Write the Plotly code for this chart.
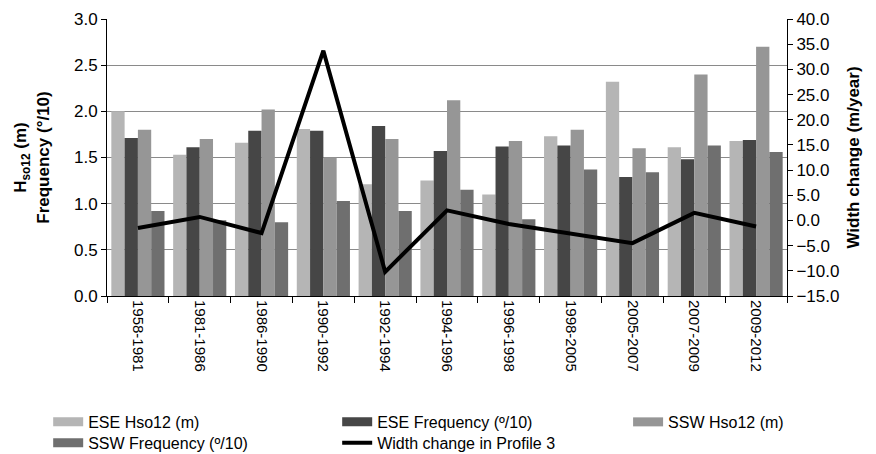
import plotly.graph_objects as go

periods = ["1958-1981", "1981-1986", "1986-1990", "1990-1992", "1992-1994", "1994-1996",
           "1996-1998", "1998-2005", "2005-2007", "2007-2009", "2009-2012"]
ese_hso12 = [2.00, 1.53, 1.66, 1.81, 1.21, 1.25, 1.10, 1.73, 2.32, 1.61, 1.68]
ese_freq = [1.71, 1.61, 1.79, 1.79, 1.84, 1.57, 1.62, 1.63, 1.29, 1.48, 1.69]
ssw_hso12 = [1.80, 1.70, 2.02, 1.50, 1.70, 2.12, 1.68, 1.80, 1.60, 2.40, 2.70]
ssw_freq = [0.92, 0.82, 0.80, 1.03, 0.92, 1.15, 0.83, 1.37, 1.34, 1.63, 1.56]
width_change = [-1.5, 0.7, -2.5, 33.7, -10.2, 2.0, -0.7, -2.6, -4.5, 1.5, -1.2]

font = "Liberation Sans, Arial, sans-serif"

fig = go.Figure()
bar_specs = [
    ("ESE Hso12 (m)", ese_hso12, "#b5b5b5", "legend"),
    ("ESE Frequency (º/10)", ese_freq, "#464646", "legend"),
    ("SSW Hso12 (m)", ssw_hso12, "#969696", "legend3"),
    ("SSW Frequency (º/10)", ssw_freq, "#6f6f6f", "legend2"),
]
for name, vals, col, lg in bar_specs:
    fig.add_trace(go.Bar(x=periods, y=vals, name=name, showlegend=False,
                         marker=dict(color=col, line=dict(width=0))))

fig.add_trace(go.Scatter(x=periods, y=width_change, name="Width change in Profile 3",
                         mode="lines", line=dict(color="black", width=4), yaxis="y2",
                         showlegend=False))

# legend entries (wide rectangle swatches like the original)
for name, vals, col, lg in bar_specs:
    fig.add_trace(go.Scatter(x=[None], y=[None], name=name, mode="lines", legend=lg,
                             line=dict(color=col, width=9)))
fig.add_trace(go.Scatter(x=[None], y=[None], name="Width change in Profile 3", mode="lines",
                         line=dict(color="black", width=4), yaxis="y2", legend="legend2"))

leg_common = dict(orientation="h", xref="container", yref="container",
                  xanchor="left", yanchor="top", font=dict(family=font, size=16),
                  traceorder="normal", itemwidth=30, tracegroupgap=0,
                  entrywidth=244, entrywidthmode="pixels",
                  bgcolor="rgba(0,0,0,0)")

fig.update_layout(
    width=876, height=454,
    margin=dict(l=107, r=89, t=19, b=158),
    paper_bgcolor="white", plot_bgcolor="white",
    barmode="group", bargap=0.14, bargroupgap=0,
    font=dict(family=font, size=17, color="black"),
    xaxis=dict(type="category", tickangle=90, showline=True, linecolor="black", linewidth=1,
               ticks="outside", tickson="boundaries", ticklen=6, tickcolor="black",
               tickfont=dict(family=font, size=15), showgrid=False, automargin=False),
    yaxis=dict(range=[0, 3.0], dtick=0.5, tickformat=".1f", showline=True, linecolor="black",
               linewidth=1, ticks="outside", ticklen=5, tickcolor="black",
               showgrid=True, gridcolor="#8a8a8a", gridwidth=1, zeroline=False,
               tickfont=dict(size=17), automargin=False,
               title=dict(text="H<sub>so12</sub> (m)<br>Frequency (°/10)",
                          font=dict(size=17, weight="bold"), standoff=20)),
    yaxis2=dict(range=[-15, 40], dtick=5, tickformat=".1f", overlaying="y", side="right",
                showline=True, linecolor="black", linewidth=1, ticks="outside", ticklen=5,
                tickcolor="black", showgrid=False, zeroline=False, tickfont=dict(size=17),
                automargin=False,
                title=dict(text="Width change (m/year)",
                           font=dict(size=17, weight="bold"), standoff=8)),
    legend=dict(x=0.055, y=0.108, **leg_common),
    legend2=dict(x=0.055, y=0.062, **leg_common),
    legend3=dict(x=0.717, y=0.108, **leg_common),
)

fig.write_html("out.html", config={"displayModeBar": False},
               post_script="document.body.style.margin='0';")
